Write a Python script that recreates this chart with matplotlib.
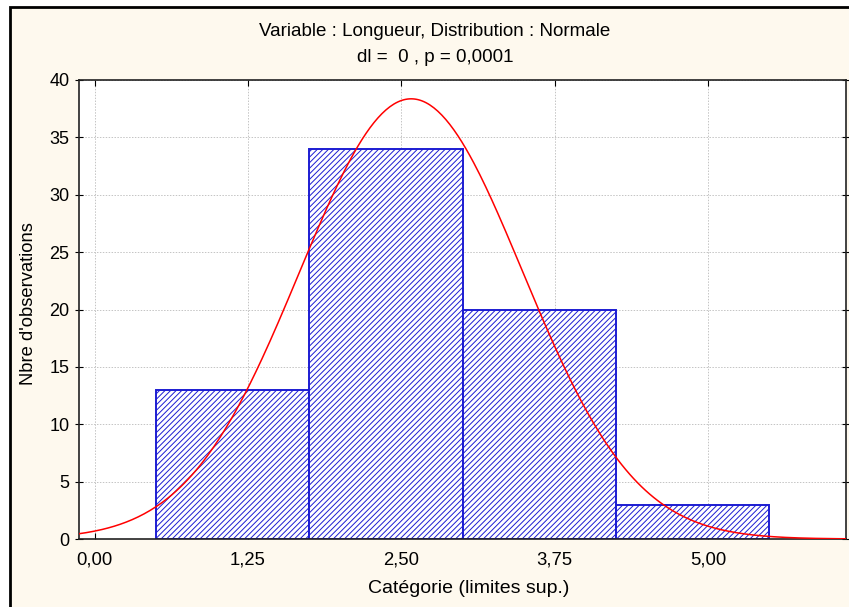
import numpy as np
import matplotlib.pyplot as plt
from matplotlib.patches import Rectangle

# ================= Donnees =================
bornes = [0.5, 1.75, 3.0, 4.25, 5.5]      # limites des categories
effectifs = [13, 34, 20, 3]               # nbre d'observations par categorie
moyenne = 2.58                            # parametres de la loi normale ajustee
ecart_type = 0.91
xticks = [0.0, 1.25, 2.5, 3.75, 5.0]
xtick_labels = ['0,00', '1,25', '2,50', '3,75', '5,00']
yticks = [0, 5, 10, 15, 20, 25, 30, 35, 40]

plt.rcParams['font.family'] = ['Liberation Sans', 'DejaVu Sans']
plt.rcParams['hatch.linewidth'] = 0.7
plt.rcParams['hatch.color'] = '#4848ee'

fig = plt.figure(figsize=(8.49, 6.07), dpi=100)
fig.patch.set_facecolor('white')

# cadre creme autour du graphique
fond = Rectangle((10 / 849, -0.01), 1.0, 1 - 7 / 607 + 0.01, transform=fig.transFigure,
                 facecolor='#fef9ee', edgecolor='black', linewidth=2, zorder=-10)
fig.patches.append(fond)

ax = fig.add_axes([79 / 849, 1 - 539 / 607, (846 - 79) / 849, (539 - 80) / 607])
ax.set_facecolor('white')

# ================= Histogramme =================
largeurs = np.diff(bornes)
ax.bar(bornes[:-1], effectifs, width=largeurs, align='edge', facecolor='white',
       edgecolor='#1c1cd2', linewidth=1.4, hatch='//////', zorder=2)

# ================= Courbe normale =================
n_total = sum(effectifs)
x = np.linspace(-0.2, 6.3, 400)
y = n_total * largeurs[0] / (ecart_type * np.sqrt(2 * np.pi)) * np.exp(-(x - moyenne) ** 2 / (2 * ecart_type ** 2))
ax.plot(x, y, color='#ff0000', linewidth=1.1, zorder=3)

ax.set_xlim(-0.128, 6.125)
ax.set_ylim(0, 40)
ax.set_xticks(xticks)
ax.set_xticklabels(xtick_labels)
ax.set_yticks(yticks)
ax.grid(True, color='#c4c4c4', linestyle=(0, (1.5, 1.5)), linewidth=0.7, zorder=0)
ax.set_axisbelow(True)

ax.tick_params(axis='x', direction='in', length=4, top=True, labelsize=13.3, pad=9)
ax.tick_params(axis='y', direction='inout', length=6, right=True, labelsize=13, pad=4)
for s in ax.spines.values():
    s.set_linewidth(1.2)
    s.set_color('#222222')

ax.set_xlabel('Catégorie (limites sup.)', fontsize=14)
ax.xaxis.set_label_coords(0.508, -0.089)
ax.set_ylabel("Nbre d'observations", fontsize=13.2)
ax.yaxis.set_label_coords(-0.055, 0.513)

centre = 435 / 849
fig.text(centre, 1 - 31 / 607, 'Variable : Longueur, Distribution : Normale',
         ha='center', va='center', fontsize=13.5)
fig.text(centre, 1 - 57 / 607, 'dl =  0 , p = 0,0001',
         ha='center', va='center', fontsize=13.5)

fig.savefig('out.png', dpi=100, facecolor=fig.get_facecolor())
